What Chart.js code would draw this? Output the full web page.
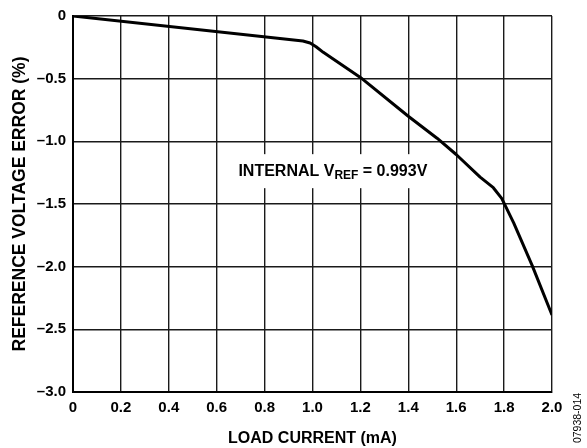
<!DOCTYPE html>
<html>
<head>
<meta charset="utf-8">
<script src="https://cdn.jsdelivr.net/npm/chart.js@4/dist/chart.umd.min.js"></script>
<style>
  html, body { margin: 0; padding: 0; background: #fff; }
  #wrap { width: 587px; height: 448px; position: relative; }
</style>
</head>
<body>
<div id="wrap"><canvas id="refChart"></canvas></div>
<script>
// load current (mA) and reference voltage error (%)
const loadCurrent = [0, 0.96, 0.99, 1.015, 1.045, 1.2, 1.4, 1.52, 1.6, 1.7, 1.755, 1.79, 1.84, 1.917, 2.0];
const refError    = [0, -0.2, -0.215, -0.245, -0.29, -0.49, -0.80, -0.975, -1.105, -1.285, -1.37, -1.455, -1.65, -1.99, -2.385];

const xTicks = [0, 0.2, 0.4, 0.6, 0.8, 1.0, 1.2, 1.4, 1.6, 1.8, 2.0];
const yTicks = [0, -0.5, -1.0, -1.5, -2.0, -2.5, -3.0];

const annotation = { x: 1.085, y: -1.238, main: 'INTERNAL V', sub: 'REF', tail: ' = 0.993V' };
const figureId = '07938-014';

const FONT = '"Liberation Sans", Arial, sans-serif';

function fmt(v) {
    if (v === 0) return '0';
    const s = Math.abs(v).toFixed(1);
    return v < 0 ? '\u2013' + s : s;
}

const labelPlugin = {
    id: 'labelPlugin',
    beforeDatasetsDraw(chart) {
        const ctx = chart.ctx;
        const xs = chart.scales.x, ys = chart.scales.y;
        const cx = xs.getPixelForValue(annotation.x);
        const cy = ys.getPixelForValue(annotation.y);
        ctx.save();
        const big = 'bold 16px ' + FONT;
        const small = 'bold 12px ' + FONT;
        ctx.font = big;
        const w1 = ctx.measureText(annotation.main).width;
        const w3 = ctx.measureText(annotation.tail).width;
        ctx.font = small;
        const w2 = ctx.measureText(annotation.sub).width;
        const total = w1 + w2 + w3;
        const x0 = cx - total / 2;
        ctx.fillStyle = '#fff';
        ctx.fillRect(x0 - 6, cy - 17, total + 12, 34);
        ctx.fillStyle = '#000';
        ctx.textBaseline = 'middle';
        ctx.textAlign = 'left';
        ctx.font = big;
        ctx.fillText(annotation.main, x0, cy);
        ctx.font = small;
        ctx.fillText(annotation.sub, x0 + w1, cy + 5);
        ctx.font = big;
        ctx.fillText(annotation.tail, x0 + w1 + w2, cy);
        ctx.restore();
    },
    afterDraw(chart) {
        const ctx = chart.ctx;
        ctx.save();
        ctx.translate(578, 418);
        ctx.rotate(-Math.PI / 2);
        ctx.font = '10.5px ' + FONT;
        ctx.fillStyle = '#000';
        ctx.textAlign = 'center';
        ctx.textBaseline = 'middle';
        ctx.fillText(figureId, 0, 0);
        ctx.restore();
    }
};

const ctx = document.getElementById('refChart').getContext('2d');
new Chart(ctx, {
    type: 'line',
    data: {
        datasets: [{
            data: loadCurrent.map((x, i) => ({ x: x, y: refError[i] })),
            borderColor: '#000',
            borderWidth: 3,
            borderJoinStyle: 'round',
            pointRadius: 0,
            fill: false,
            tension: 0
        }]
    },
    options: {
        responsive: true,
        maintainAspectRatio: false,
        animation: false,
        layout: { padding: { top: 9, right: 35, left: 0, bottom: 0 } },
        plugins: { legend: { display: false }, tooltip: { enabled: false } },
        scales: {
            x: {
                type: 'linear',
                min: 0, max: 2,
                afterBuildTicks: (s) => { s.ticks = xTicks.map(v => ({ value: v })); },
                afterFit: (s) => { s.height = 56; },
                grid: { color: '#1a1a1a', lineWidth: 1.4, drawTicks: false },
                border: { color: '#000', width: 2 },
                ticks: {
                    callback: (v) => fmt(v),
                    color: '#000',
                    font: { family: FONT, size: 15, weight: 'bold' },
                    padding: 7,
                    maxRotation: 0
                },
                title: {
                    display: true,
                    text: 'LOAD CURRENT (mA)',
                    color: '#000',
                    font: { family: FONT, size: 16, weight: 'bold' },
                    padding: { top: 0, bottom: 0 }
                }
            },
            y: {
                type: 'linear',
                min: -3, max: 0,
                afterBuildTicks: (s) => { s.ticks = yTicks.map(v => ({ value: v })); },
                afterFit: (s) => { s.width = 73; },
                grid: { color: '#1a1a1a', lineWidth: 1.4, drawTicks: false },
                border: { color: '#000', width: 2 },
                ticks: {
                    callback: (v) => fmt(v),
                    color: '#000',
                    font: { family: FONT, size: 15, weight: 'bold' },
                    padding: 7
                },
                title: {
                    display: true,
                    text: 'REFERENCE VOLTAGE ERROR (%)',
                    color: '#000',
                    font: { family: FONT, size: 17.5, weight: 'bold' },
                    padding: { top: 10, bottom: 10 }
                }
            }
        }
    },
    plugins: [labelPlugin]
});
</script>
</body>
</html>
